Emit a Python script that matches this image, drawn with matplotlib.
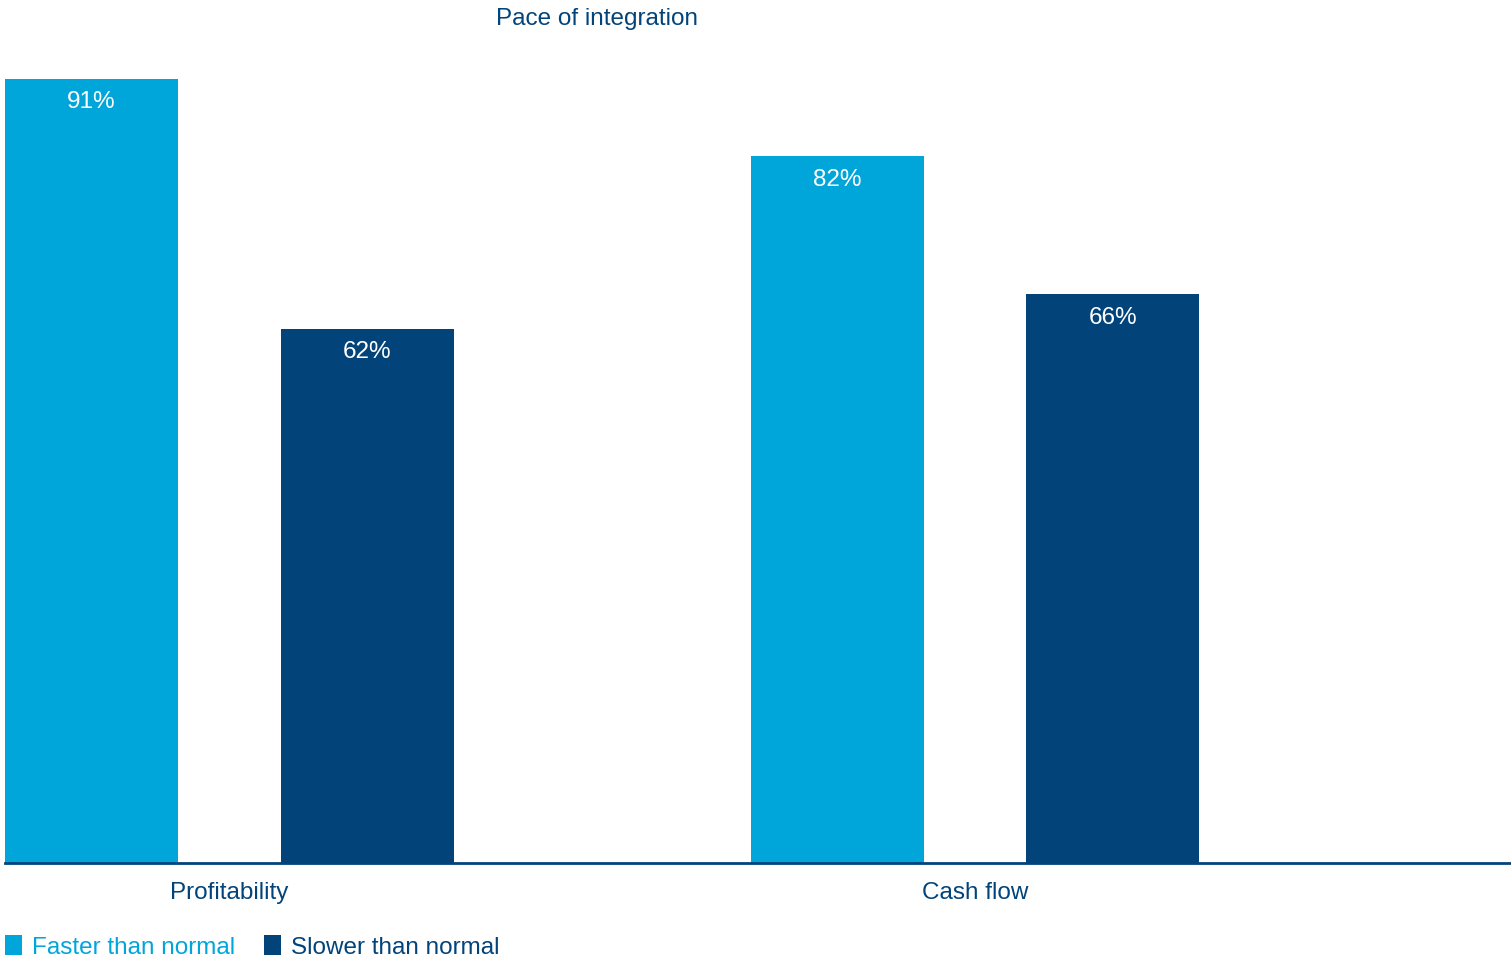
import matplotlib.pyplot as plt
import numpy as np

plt.rcParams['font.family'] = ['Liberation Sans', 'DejaVu Sans']

# data
categories = ["Profitability", "Cash flow"]
series_names = ["Faster than normal", "Slower than normal"]
faster = [91, 82]
slower = [62, 66]

light = "#00A6DA"
dark = "#02447A"

fig = plt.figure(figsize=(15.11, 9.61), dpi=100)
W, H = 1511, 961
# axes placed in pixel terms: left 5, right 1511, baseline 863, top 40
ax = fig.add_axes((5 / W, (H - 863) / H, (W - 5) / W, (863 - 40) / H))

x = np.arange(len(categories))
width = 0.232
off = 0.185
b1 = ax.bar(x - off, faster, width, color=light, label=series_names[0])
b2 = ax.bar(x + off, slower, width, color=dark, label=series_names[1])

for bars, vals in ((b1, faster), (b2, slower)):
    for rect, v in zip(bars, vals):
        ax.annotate(f"{v}%", (rect.get_x() + rect.get_width() / 2, v),
                    xytext=(0, -9), textcoords="offset points",
                    ha="center", va="top", color="white", fontsize=17.5)

ax.set_xlim(-0.301, 1.719)
ax.set_ylim(0, 95.5)
for s in ("top", "right", "left"):
    ax.spines[s].set_visible(False)
ax.spines["bottom"].set_color(dark)
ax.spines["bottom"].set_linewidth(2)
ax.set_yticks([])
ax.set_xticks(x)
ax.set_xticklabels(categories, fontsize=17.5, color=dark)
ax.tick_params(axis="x", length=0, pad=14)

fig.text(597 / W, 1 - 19 / H, "Pace of integration", ha="center", va="center",
         fontsize=17.5, color=dark)

leg = fig.legend(handles=[b1, b2], loc="lower left", bbox_to_anchor=(3 / W, 0.0),
                 ncol=2, frameon=False, fontsize=17.5, labelcolor=[light, dark],
                 handlelength=0.7, handleheight=0.85, handletextpad=0.4,
                 columnspacing=1.2, borderaxespad=0.0, borderpad=0.1)

fig.savefig("out.png", dpi=100)
